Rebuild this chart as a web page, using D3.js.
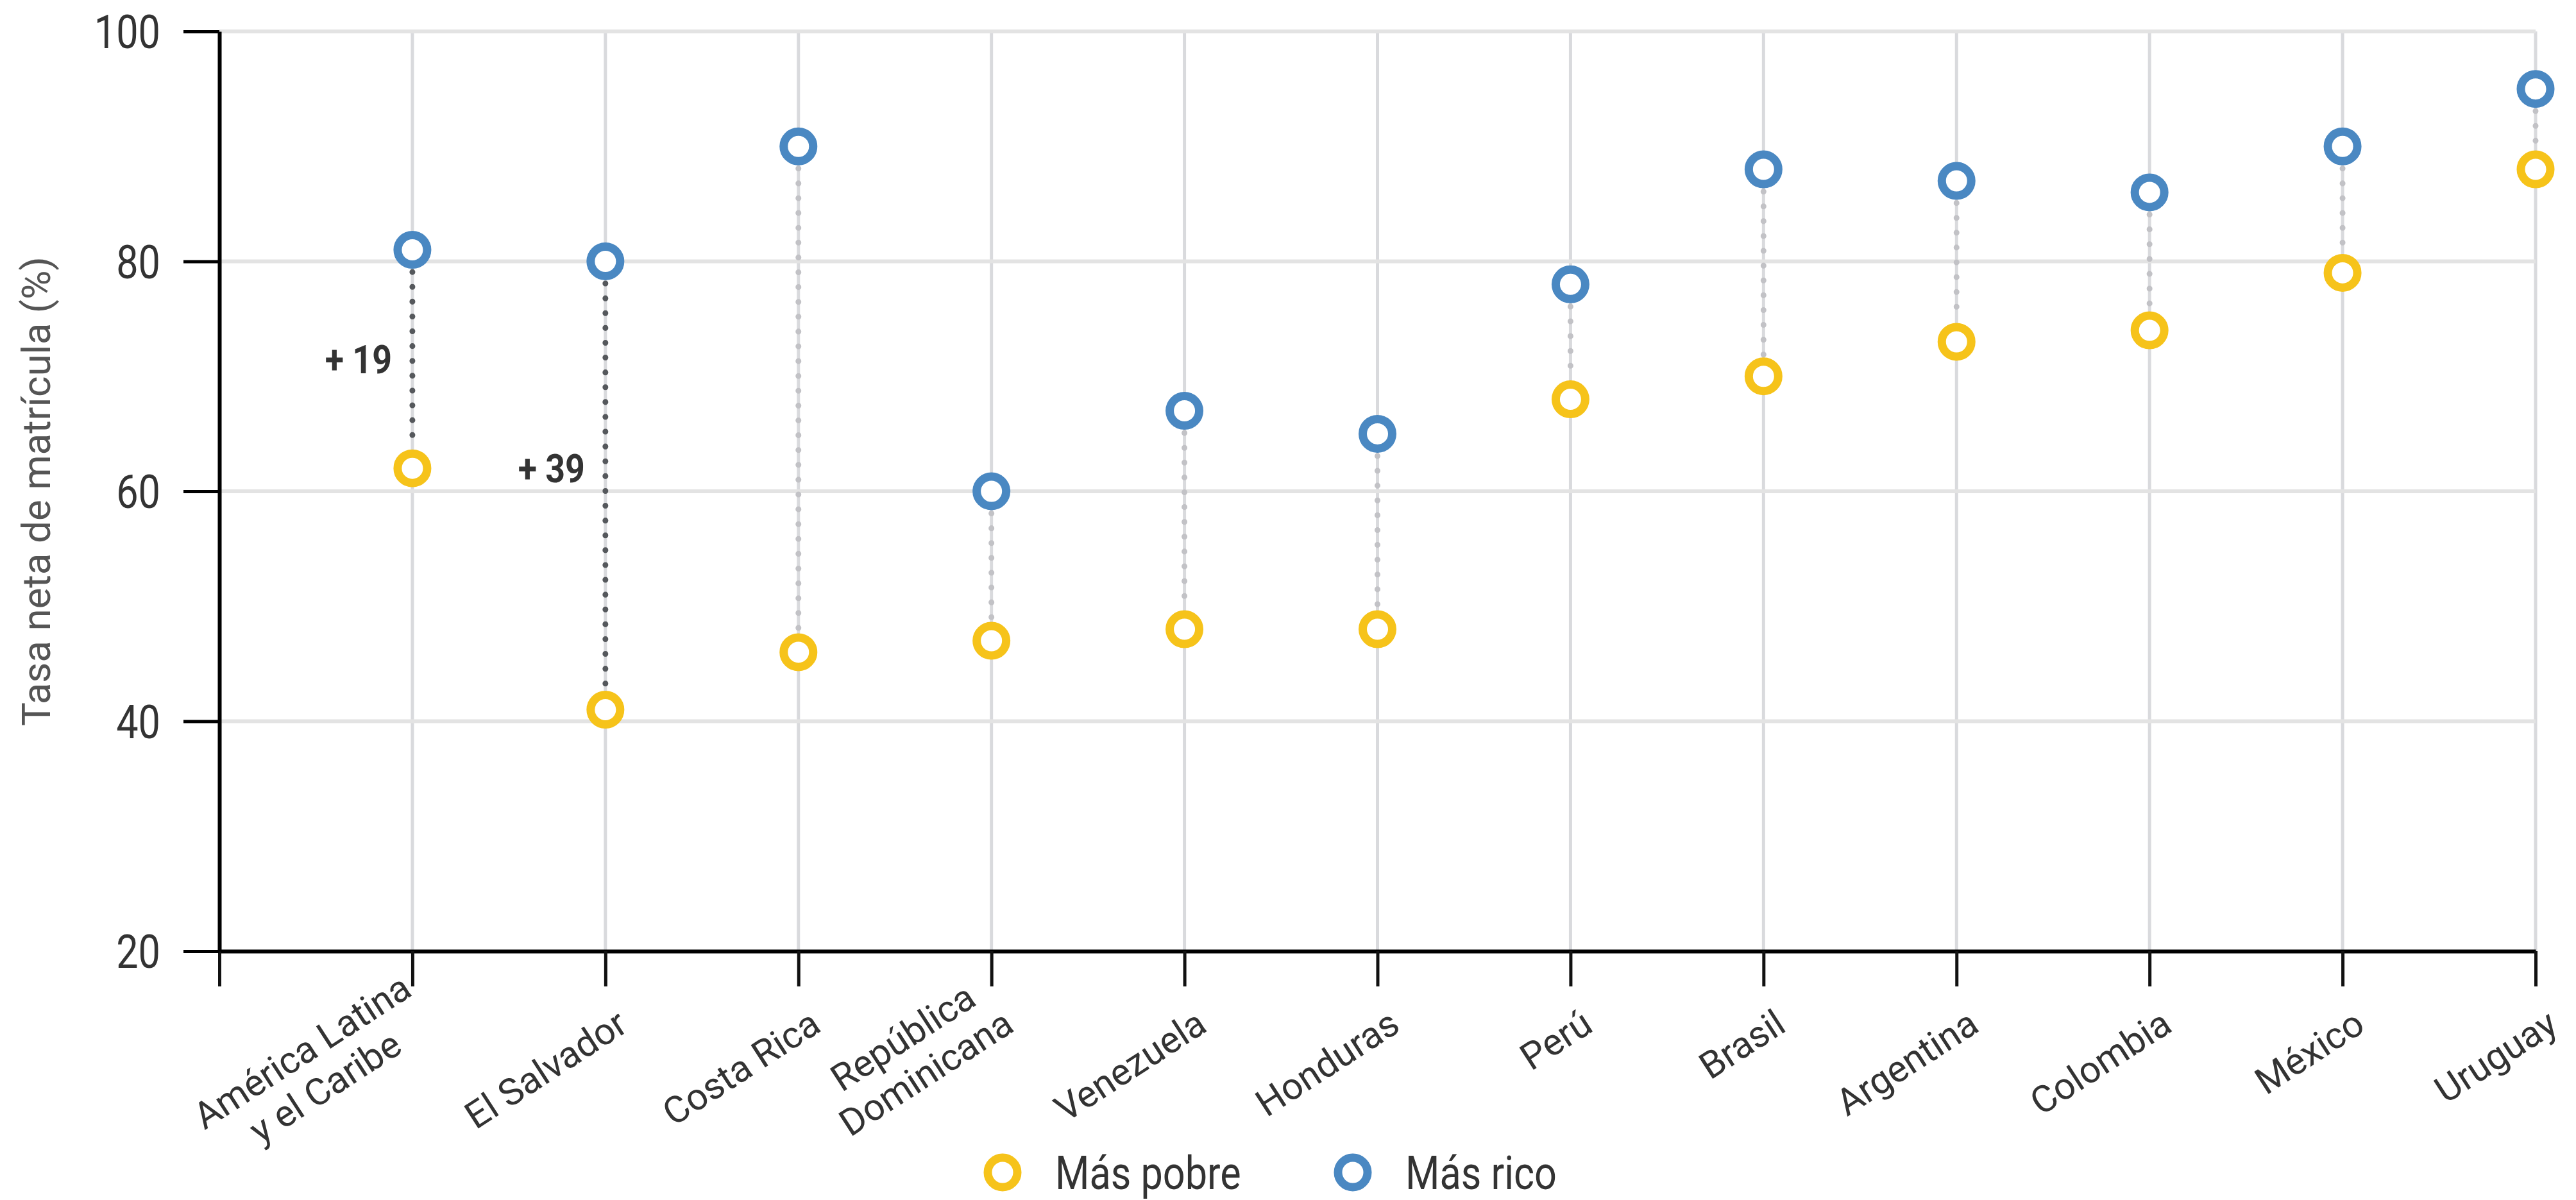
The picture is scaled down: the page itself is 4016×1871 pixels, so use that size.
<!DOCTYPE html>
<html lang="es">
<head>
<meta charset="utf-8">
<script src="https://cdn.jsdelivr.net/npm/d3@7"></script>
<style>
  html, body { margin: 0; padding: 0; background: #fff; }
  svg { display: block; font-family: Roboto, "Noto Sans", sans-serif; }
</style>
</head>
<body>
<svg id="chart" width="4016" height="1871"></svg>
<script>
// Data
const categories = [
  "América Latina\ny el Caribe", "El Salvador", "Costa Rica", "República\nDominicana",
  "Venezuela", "Honduras", "Perú", "Brasil", "Argentina", "Colombia", "México", "Uruguay"
];
const pobre = [62, 41, 46, 47, 48, 48, 68, 70, 73, 74, 79, 88];
const rico  = [81, 80, 90, 60, 67, 65, 78, 88, 87, 86, 90, 95];
const yTicks = [20, 40, 60, 80, 100];
const legendLabels = ["Más pobre", "Más rico"];
const annotations = [
  { cat: "América Latina\ny el Caribe", text: "+ 19", value: 71.5 },
  { cat: "El Salvador", text: "+ 39", value: 62 }
];

const colors = { pobre: "#F6C31A", rico: "#4A88C2" };
const condensed = "scale(0.85,1)"; // no Roboto Condensed installed, squeeze Roboto instead

const svg = d3.select("#chart");
const plotLeft = 342, plotRight = 3953, plotTop = 49, plotBottom = 1483;

const x = d3.scalePoint().domain(["", ...categories]).range([plotLeft, plotRight]);
const y = d3.scaleLinear().domain([20, 100]).range([plotBottom, plotTop]);

// vertical grid (under the horizontal one)
svg.append("g").selectAll("line")
    .data(categories)
    .join("line")
    .attr("x1", d => x(d)).attr("x2", d => x(d))
    .attr("y1", y(100)).attr("y2", y(20))
    .attr("stroke", "#d9dadd")
    .attr("stroke-width", 5);

svg.append("g").selectAll("line")
    .data(yTicks.filter(t => t > 20))
    .join("line")
    .attr("x1", plotLeft).attr("x2", plotRight)
    .attr("y1", d => y(d)).attr("y2", d => y(d))
    .attr("stroke", "#e3e3e3")
    .attr("stroke-width", 6);

// axes
const xAxis = svg.append("g")
    .attr("transform", `translate(0,${plotBottom})`)
    .call(d3.axisBottom(x).tickSize(55).tickSizeOuter(0).tickFormat(""));
xAxis.select(".domain").attr("stroke", "#000").attr("stroke-width", 6);
xAxis.selectAll(".tick line").attr("stroke", "#111").attr("stroke-width", 5);

const yAxis = svg.append("g")
    .attr("transform", `translate(${plotLeft},0)`)
    .call(d3.axisLeft(y).tickValues(yTicks).tickSize(56).tickSizeOuter(0));
yAxis.select(".domain").attr("stroke", "#000").attr("stroke-width", 6);
yAxis.selectAll(".tick line").attr("stroke", "#000").attr("stroke-width", 5);
yAxis.selectAll(".tick text")
    .attr("x", null)
    .attr("dy", "0.36em")
    .attr("transform", `translate(-92,0) ${condensed}`)
    .attr("text-anchor", "end")
    .attr("font-family", "Roboto")
    .attr("font-size", 72)
    .attr("fill", "#333");

// rotated category labels, lines centred, block ends near the tick
const lineHeight = 66;
const labels = svg.append("g").selectAll("g")
    .data(categories)
    .join("g")
    .attr("transform", d => `translate(${x(d) + 38},1606) rotate(-33)`);
labels.each(function(d) {
    const g = d3.select(this);
    const lines = d.split("\n");
    const texts = lines.map((t, i) => g.append("text")
        .text(t)
        .attr("y", -(lines.length - 1 - i) * lineHeight)
        .attr("text-anchor", "middle")
        .attr("font-size", 58)
        .attr("fill", "#333"));
    const w = d3.max(texts, t => t.node().getComputedTextLength());
    texts.forEach(t => t.attr("x", -w / 2));
});

// y title
svg.append("text")
    .attr("transform", `translate(56,${(plotTop + plotBottom) / 2}) rotate(-90)`)
    .attr("text-anchor", "middle")
    .attr("dy", "0.35em")
    .attr("font-size", 62)
    .attr("fill", "#555")
    .text("Tasa neta de matrícula (%)");

// connectors
const r = 23, sw = 13;
const highlighted = new Set(annotations.map(a => a.cat));
svg.append("g").selectAll("line")
    .data(categories)
    .join("line")
    .attr("x1", d => x(d)).attr("x2", d => x(d))
    .attr("y1", (d, i) => y(rico[i]) + r + sw / 2 + 5)
    .attr("y2", (d, i) => y(pobre[i]) - r - sw / 2 - 3)
    .attr("stroke", d => highlighted.has(d) ? "#55585c" : "#c2c2c6")
    .attr("stroke-width", 9)
    .attr("stroke-linecap", "round")
    .attr("stroke-dasharray", "0.1 23");

// dots
[[pobre, colors.pobre], [rico, colors.rico]].forEach(([vals, color]) => {
    svg.append("g").selectAll("circle")
        .data(categories)
        .join("circle")
        .attr("cx", d => x(d))
        .attr("cy", (d, i) => y(vals[i]))
        .attr("r", r)
        .attr("fill", "#fff")
        .attr("stroke", color)
        .attr("stroke-width", sw);
});

// gap annotations
svg.append("g").selectAll("text")
    .data(annotations)
    .join("text")
    .attr("transform", d => `translate(${x(d.cat) - 32},${y(d.value)}) scale(0.88,1)`)
    .attr("text-anchor", "end")
    .attr("dy", "0.36em")
    .attr("font-size", 61)
    .attr("font-weight", 700)
    .attr("fill", "#333")
    .text(d => d.text);

// legend
const legend = svg.append("g").attr("transform", "translate(1563,1828)");
const item = legend.selectAll("g")
    .data(legendLabels)
    .join("g")
    .attr("transform", (d, i) => `translate(${i * 546},0)`);
item.append("circle")
    .attr("r", r)
    .attr("fill", "#fff")
    .attr("stroke", (d, i) => i === 0 ? colors.pobre : colors.rico)
    .attr("stroke-width", sw);
item.append("text")
    .attr("transform", `translate(82,0) ${condensed}`)
    .attr("dy", "0.36em")
    .attr("font-size", 72)
    .attr("fill", "#333")
    .text(d => d);
</script>
</body>
</html>
